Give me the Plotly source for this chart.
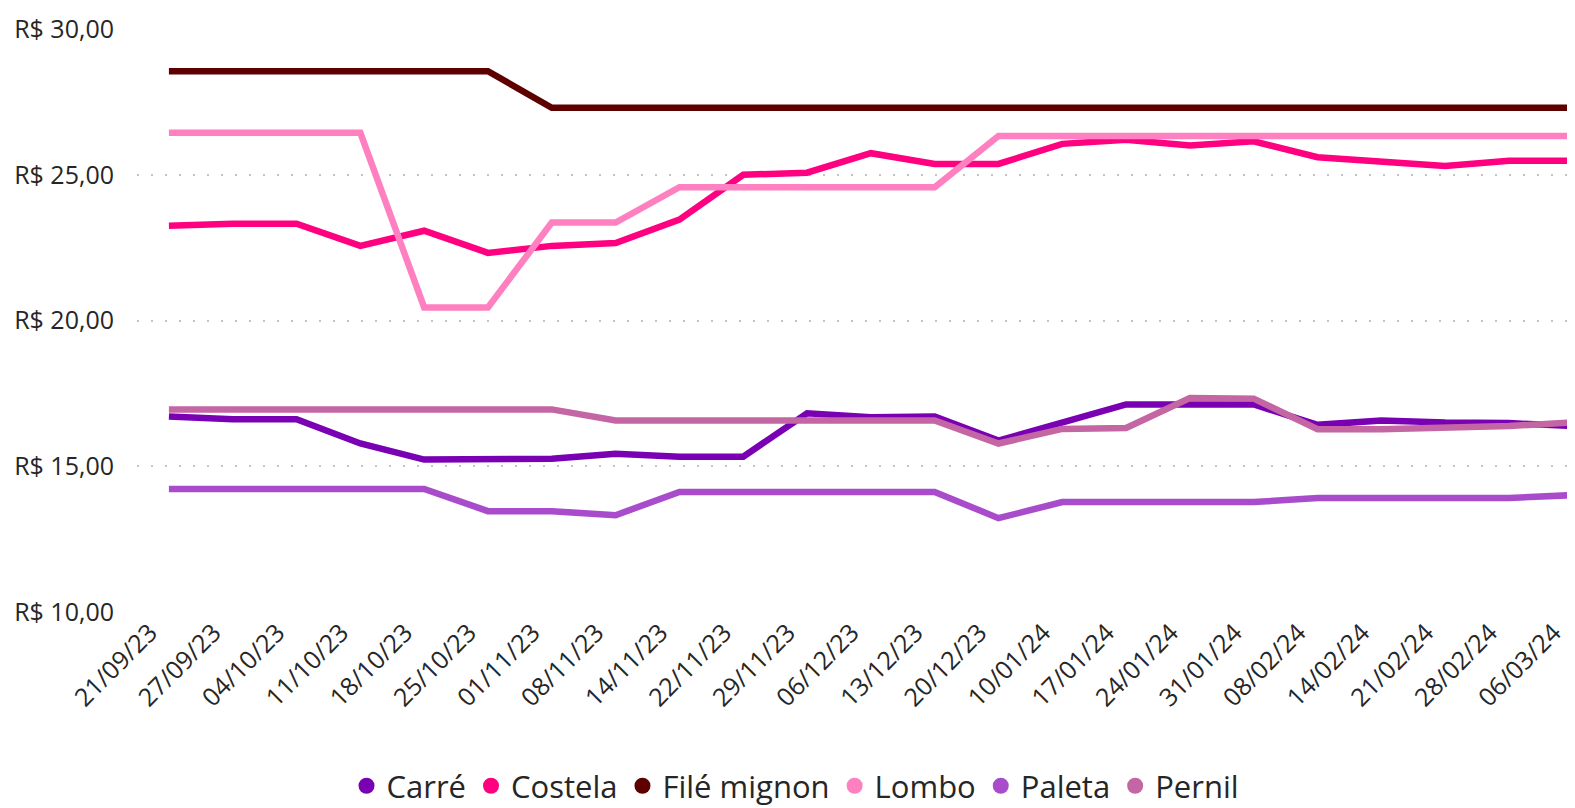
import plotly.graph_objects as go

# semana de coleta
datas = ["21/09/23", "27/09/23", "04/10/23", "11/10/23", "18/10/23", "25/10/23",
         "01/11/23", "08/11/23", "14/11/23", "22/11/23", "29/11/23", "06/12/23",
         "13/12/23", "20/12/23", "10/01/24", "17/01/24", "24/01/24", "31/01/24",
         "08/02/24", "14/02/24", "21/02/24", "28/02/24", "06/03/24"]

carre = [16.71, 16.61, 16.61, 15.78, 15.23, 15.23, 15.26, 15.43, 15.33, 15.33, 16.82, 16.68,
         16.71, 15.88, 16.50, 17.12, 17.12, 17.12, 16.42, 16.57, 16.50, 16.48, 16.38]
costela = [23.25, 23.32, 23.32, 22.56, 23.08, 22.32, 22.56, 22.66, 23.46, 25.00, 25.07, 25.74,
           25.37, 25.37, 26.06, 26.20, 26.00, 26.15, 25.60, 25.43, 25.30, 25.48, 25.48]
file_mignon = [28.55, 28.55, 28.55, 28.55, 28.55, 28.55, 27.30, 27.30, 27.30, 27.30, 27.30, 27.30,
               27.30, 27.30, 27.30, 27.30, 27.30, 27.30, 27.30, 27.30, 27.30, 27.30, 27.30]
lombo = [26.44, 26.44, 26.44, 26.44, 20.45, 20.45, 23.36, 23.36, 24.57, 24.57, 24.57, 24.57,
         24.57, 26.33, 26.33, 26.33, 26.33, 26.33, 26.33, 26.33, 26.33, 26.33, 26.33]
paleta = [14.22, 14.22, 14.22, 14.22, 14.22, 13.46, 13.46, 13.32, 14.12, 14.12, 14.12, 14.12,
          14.12, 13.22, 13.77, 13.77, 13.77, 13.77, 13.91, 13.91, 13.91, 13.91, 14.01]
pernil = [16.95, 16.95, 16.95, 16.95, 16.95, 16.95, 16.95, 16.57, 16.57, 16.57, 16.57, 16.57,
          16.57, 15.78, 16.28, 16.31, 17.34, 17.32, 16.27, 16.27, 16.33, 16.38, 16.50]

series = [
    ("Carré", carre, "#7A00B4"),
    ("Costela", costela, "#FF0080"),
    ("Filé mignon", file_mignon, "#5C0000"),
    ("Lombo", lombo, "#FF80C0"),
    ("Paleta", paleta, "#A94CCC"),
    ("Pernil", pernil, "#C465A4"),
]

fig = go.Figure()
for name, vals, color in series:
    fig.add_trace(go.Scatter(
        x=datas, y=vals, mode="lines", name=name, legendgroup=name,
        line=dict(color=color, width=6.5), showlegend=False,
    ))

# entradas da legenda com marcador redondo
for name, vals, color in series:
    fig.add_trace(go.Scatter(
        x=[None], y=[None], mode="markers", name=name, legendgroup=name,
        marker=dict(color=color, size=16, symbol="circle"),
    ))

fig.update_layout(
    width=1575, height=808,
    paper_bgcolor="white", plot_bgcolor="white",
    margin=dict(l=129, r=0, t=21, b=204),
    font=dict(family="Open Sans, Arial", size=25, color="#262626"),
    separators=",.",
    legend=dict(orientation="h", x=0.5, xref="container", xanchor="center",
                y=0.037, yref="container", yanchor="middle",
                font=dict(size=31), itemsizing="trace", itemwidth=30, traceorder="normal"),
    xaxis=dict(type="category", range=[-0.5, 22.16], tickangle=-45, showgrid=False,
               ticks="", zeroline=False, showline=False, tickfont=dict(size=25),
               ticklabelshift=-19, automargin=False),
    yaxis=dict(range=[10, 30], dtick=5, tickprefix="R$ ", tickformat=".2f",
               showgrid=True, gridcolor="#C4C4C4", griddash="2px,12px", gridwidth=2,
               zeroline=False, showline=False, tickfont=dict(size=25), ticklabelstandoff=22,
               automargin=False),
)

fig.write_html("out.html")
